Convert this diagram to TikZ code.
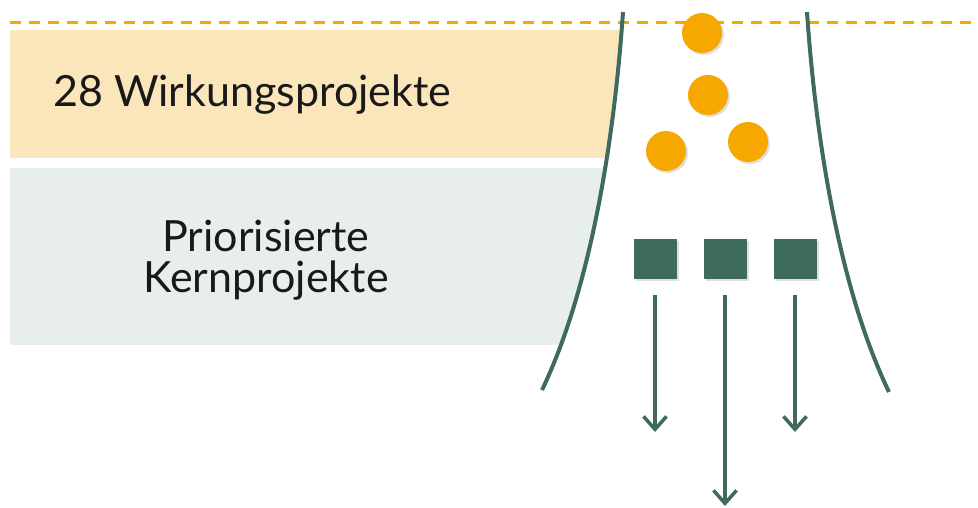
\documentclass[tikz,border=0pt]{standalone}
\usepackage{fontspec}
\setmainfont{Lato}
\usetikzlibrary{shadows,arrows.meta}

\definecolor{bandorange}{RGB}{251,229,186}
\definecolor{bandgrey}{RGB}{231,238,237}
\definecolor{dotorange}{RGB}{246,168,0}
\definecolor{funnelgreen}{RGB}{62,107,94}

\begin{document}
\begin{tikzpicture}[x=1pt,y=-1pt]
  \tikzset{label/.style={inner sep=0pt, text=black!90, font=\fontsize{43}{41}\selectfont},
    dot/.style={circle, fill=dotorange, minimum size=40pt, inner sep=0pt,
      drop shadow={opacity=.25, shadow xshift=2pt, shadow yshift=-2pt}},
    box/.style={fill=funnelgreen, minimum width=43pt, minimum height=40pt, inner sep=0pt,
      drop shadow={opacity=.25, shadow xshift=2pt, shadow yshift=-2pt}},
    arr/.style={funnelgreen, line width=3.5pt, -{Straight Barb[length=13pt,width=23pt]}}}
  \useasboundingbox (0,0) rectangle (978,507);
  % bands, cut off by the funnel
  \begin{scope}
    \clip (0,0) -- (630,0) -- (623,12) .. controls (614,143) and (590,290) .. (542,390) -- (0,390) -- cycle;
    \fill[bandorange] (10,30) rectangle (640,158);
    \fill[bandgrey] (10,168) rectangle (640,345);
  \end{scope}
  \draw[dotorange, line width=3pt, dash pattern=on 11pt off 8pt] (10,22) -- (978,22);
  \node[label, anchor=base west] (wirk) at (53,106) {28 Wirkungsprojekte};
  \node[label, align=center] (kern) at (266,260) {Priorisierte\\Kernprojekte};
  % funnel
  \draw[funnelgreen, line width=4pt] (623,12) .. controls (614,143) and (590,290) .. (542,390);
  \draw[funnelgreen, line width=4pt] (807,12) .. controls (816,143) and (840,290) .. (889,392);
  \node[dot] (p1) at (702,33) {};
  \node[dot] (p2) at (708,95) {};
  \node[dot] (p3) at (666,151) {};
  \node[dot] (p4) at (748,142) {};
  \node[box] (sq1) at (655,259) {};
  \node[box] (sq2) at (725,259) {};
  \node[box] (sq3) at (795,259) {};
  \coordinate (e1) at (655,432);
  \coordinate (e2) at (725,506);
  \coordinate (e3) at (795,432);
  \foreach \i in {1,2,3}
    \draw[arr] ([yshift=-16pt]sq\i.south) -- (e\i);
\end{tikzpicture}
\end{document}
